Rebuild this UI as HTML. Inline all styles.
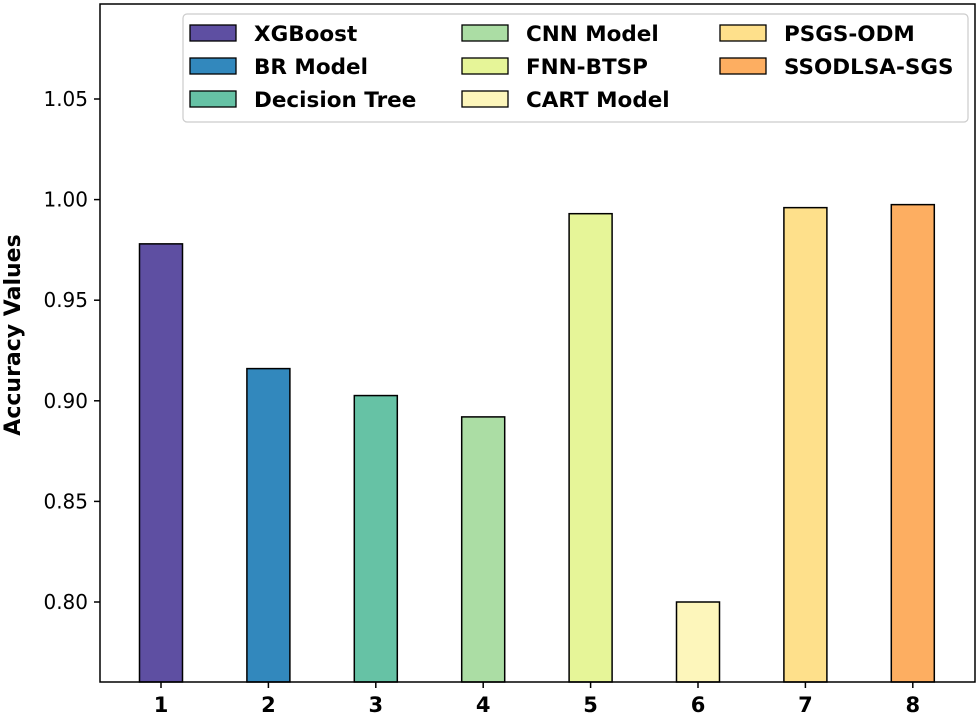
<!DOCTYPE html>
<html><head><meta charset="utf-8"><style>
body{margin:0;background:#fff;}
svg{display:block;font-family:"DejaVu Sans","Liberation Sans",sans-serif;}
</style></head><body>
<svg id="chart" width="980" height="718"></svg>
<script>
const categories=["1","2","3","4","5","6","7","8"];
const models=["XGBoost","BR Model","Decision Tree","CNN Model","FNN-BTSP","CART Model","PSGS-ODM","SSODLSA-SGS"];
const accuracy=[0.978,0.916,0.9026,0.892,0.993,0.800,0.996,0.9975];
const yTicks=[0.80,0.85,0.90,0.95,1.00,1.05];
const colors=["#5e4fa2","#3288bd","#66c2a5","#abdda4","#e6f598","#fdf6bb","#fee08b","#fdae61"];
const NS="http://www.w3.org/2000/svg";
const svg=document.getElementById('chart');
const L=100,R=975,T=4,B=682;
const y0=0.80,yPix0=602,pxPer=2012;
function yScale(v){return yPix0-(v-y0)*pxPer;}
function xScale(i){return 161+i*107.4;}
function mk(t,a,p){const e=document.createElementNS(NS,t);for(const k in a)e.setAttribute(k,a[k]);(p||svg).appendChild(e);return e;}
categories.forEach((c,i)=>{
  const y=yScale(accuracy[i]);
  const r=mk('rect',{x:xScale(i)-21.5,y:y,width:43,height:B-y,fill:colors[i],stroke:'#000','stroke-width':1.5});
  
  
  mk('line',{x1:xScale(i),x2:xScale(i),y1:B,y2:B+6,stroke:'#000','stroke-width':1.5});
  const t=mk('text',{x:xScale(i),y:B+30,'text-anchor':'middle','font-size':21,'font-weight':'bold'});
  t.textContent=c;
  
  
});
yTicks.forEach(v=>{
  const y=yScale(v);
  mk('line',{x1:L-6,x2:L,y1:y,y2:y,stroke:'#000','stroke-width':1.5});
  const t=mk('text',{x:L-12,y:y+7,'text-anchor':'end','font-size':20});
  t.textContent=v.toFixed(2);
  
  
});
const frame=mk('rect',{x:L,y:T,width:R-L,height:B-T,fill:'none',stroke:'#000','stroke-width':1.5});


const yt=mk('text',{x:20,y:335,'text-anchor':'middle','font-size':22,'font-weight':'bold',transform:'rotate(-90 20 335)'});
yt.textContent='Accuracy Values';


const lg=mk('g',{});


mk('rect',{x:183,y:14,width:785,height:108,rx:4,fill:'#fff',stroke:'#ccc','stroke-width':1.2},lg);
const colX=[190,462,720];
models.forEach((m,i)=>{
  const col=Math.floor(i/3),row=i%3;
  const x=colX[col],y=33+row*33;
  mk('rect',{x:x,y:y-8,width:46,height:16,fill:colors[i],stroke:'#000','stroke-width':1.3},lg);
  const t=mk('text',{x:x+64,y:y+8,'font-size':21.5,'font-weight':'bold'},lg);
  t.textContent=m;
  
  
});
</script>
</body></html>
